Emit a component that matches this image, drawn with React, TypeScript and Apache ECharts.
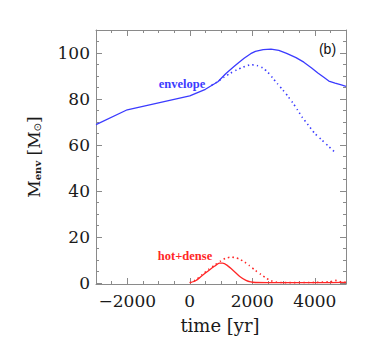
import React, { useEffect, useRef } from "react";
import * as echarts from "echarts";

// Envelope mass (solid)
const envTime = [-3000, -2000, 0, 500, 900, 1150, 1425, 1600, 1750, 1950, 2100, 2350, 2600, 2850, 3100, 3400, 3650, 3900, 4100, 4300, 4450, 4650, 4850, 5000];
const envMass = [68.8, 75.3, 81.3, 84.2, 87.5, 91.0, 94.2, 96.2, 97.8, 99.7, 100.7, 101.5, 101.7, 101.1, 99.8, 98.0, 96.0, 93.5, 91.3, 89.3, 87.8, 86.9, 86.1, 85.5];

// Envelope mass (dotted)
const envDotTime = [700, 900, 1100, 1300, 1500, 1700, 1950, 2150, 2334, 2500, 2655, 2800, 2976, 3150, 3297, 3450, 3600, 3800, 4000, 4215, 4450, 4650];
const envDotMass = [86.0, 87.6, 89.5, 91.2, 92.6, 93.8, 94.9, 94.6, 93.5, 91.6, 89.1, 86.7, 84.0, 81.0, 78.3, 75.2, 72.0, 68.5, 65.0, 62.3, 59.3, 56.8];

// Hot + dense (solid)
const hotTime = [0, 200, 400, 600, 800, 950, 1050, 1200, 1400, 1600, 1800, 1950, 2100, 2500, 3000, 4000, 5000];
const hotMass = [0.0, 1.0, 3.2, 5.3, 7.3, 8.6, 8.6, 7.6, 5.3, 2.8, 1.1, 0.4, 0.15, 0.1, 0.1, 0.1, 0.2];

// Hot + dense (dotted)
const hotDotTime = [0, 200, 400, 600, 800, 1000, 1150, 1316, 1450, 1600, 1750, 1900, 2100, 2280, 2450, 2600, 2750, 3000, 4000, 4500, 4650, 4750, 4850, 5000];
const hotDotMass = [0.0, 1.3, 3.6, 5.8, 7.7, 9.6, 10.7, 11.2, 11.0, 10.3, 9.1, 7.6, 5.4, 3.6, 2.0, 0.9, 0.3, 0.1, 0.2, 0.5, 1.1, 0.8, 0.3, 0.2];

const xMajor = [-2000, 0, 2000, 4000];
const xMinor = [-3000, -2500, -1500, -1000, -500, 500, 1000, 1500, 2500, 3000, 3500, 4500, 5000];
const yMajor = [0, 20, 40, 60, 80, 100];
const yMinor = [5, 10, 15, 25, 30, 35, 45, 50, 55, 65, 70, 75, 85, 90, 95, 105, 110];

const pairs = (xs: number[], ys: number[]) => xs.map((x, i) => [x, ys[i]]);
const fmt = (v: number) => (v < 0 ? "\u2212" + String(-v) : String(v));

const AXIS_COLOR = "#8a8a8a";
const BLUE = "#3b3bff";
const RED = "#ff2626";
const NUM_FONT = "DejaVu Serif";

export default function App() {
  const ref = useRef<HTMLDivElement>(null);
  useEffect(() => {
    document.body.style.margin = "0";
    if (!ref.current) return;
    const chart = echarts.init(ref.current, undefined, { renderer: "svg" });
    const xBase = { type: "value" as const, min: -3000, max: 5000, splitLine: { show: false } };
    const yBase = { type: "value" as const, min: -0.5, max: 110, splitLine: { show: false } };
    const majorTick = (vals: number[]) => ({ show: true, inside: true, length: 6, customValues: vals, lineStyle: { color: AXIS_COLOR, width: 1 } });
    const minorTick = (vals: number[]) => ({ show: true, inside: true, length: 3, customValues: vals, lineStyle: { color: AXIS_COLOR, width: 1 } });
    const line = { show: true, onZero: false, lineStyle: { color: AXIS_COLOR, width: 1 } };
    const noLine = { show: false, onZero: false };
    chart.setOption({
      animation: false,
      grid: { left: 96, right: 28, top: 30, bottom: 61 },
      xAxis: [
        {
          ...xBase, position: "bottom", axisLine: line, axisTick: majorTick(xMajor),
          axisLabel: { show: true, customValues: xMajor, formatter: fmt, margin: 8, fontFamily: NUM_FONT, fontSize: 17, color: "#1a1a1a" },
        },
        { ...xBase, position: "bottom", axisLine: noLine, axisTick: minorTick(xMinor), axisLabel: { show: false } },
        { ...xBase, position: "top", axisLine: line, axisTick: majorTick(xMajor), axisLabel: { show: false } },
        { ...xBase, position: "top", axisLine: noLine, axisTick: minorTick(xMinor), axisLabel: { show: false } },
      ],
      yAxis: [
        {
          ...yBase, position: "left", axisLine: line, axisTick: majorTick(yMajor),
          axisLabel: { show: true, customValues: yMajor, formatter: fmt, margin: 6, fontFamily: NUM_FONT, fontSize: 17, color: "#1a1a1a" },
        },
        { ...yBase, position: "left", axisLine: noLine, axisTick: minorTick(yMinor), axisLabel: { show: false } },
        { ...yBase, position: "right", axisLine: line, axisTick: majorTick(yMajor), axisLabel: { show: false } },
        { ...yBase, position: "right", axisLine: noLine, axisTick: minorTick(yMinor), axisLabel: { show: false } },
      ],
      series: [
        {
          type: "line", data: pairs(envTime, envMass), showSymbol: false, smooth: false,
          lineStyle: { color: BLUE, width: 1.3 }, z: 3,
        },
        {
          type: "line", data: pairs(envDotTime, envDotMass), showSymbol: false, smooth: 0.2,
          lineStyle: { color: BLUE, width: 1.6, type: [1.4, 3.2] }, z: 2,
        },
        {
          type: "line", data: pairs(hotTime, hotMass), showSymbol: false, smooth: 0.2,
          lineStyle: { color: RED, width: 1.3 }, z: 3,
        },
        {
          type: "line", data: pairs(hotDotTime, hotDotMass), showSymbol: false, smooth: 0.2,
          lineStyle: { color: RED, width: 1.6, type: [1.4, 3.2] }, z: 2,
        },
      ],
      graphic: [
        {
          type: "text", x: 182, y: 84,
          style: { text: "envelope", fill: BLUE, font: "bold 12.5px 'Liberation Serif'", align: "center", verticalAlign: "middle" },
        },
        {
          type: "text", x: 185, y: 256,
          style: { text: "hot+dense", fill: RED, font: "bold 12.5px 'Liberation Serif'", align: "center", verticalAlign: "middle" },
        },
        {
          type: "text", x: 327.5, y: 48.5,
          style: { text: "(b)", fill: "#111", font: "14px 'Liberation Sans'", align: "center", verticalAlign: "middle" },
        },
        {
          type: "text", x: 220, y: 325,
          style: { text: "time [yr]", fill: "#1a1a1a", font: "18px 'DejaVu Serif'", align: "center", verticalAlign: "middle" },
        },
        {
          type: "text", x: 34, y: 157, rotation: Math.PI / 2,
          style: {
            text: "{m|M}{s|env}{m| [M}{o|\u2299}{m|]}",
            align: "center", verticalAlign: "middle", fill: "#1a1a1a",
            rich: {
              m: { fontFamily: "DejaVu Serif", fontSize: 17, fill: "#1a1a1a", verticalAlign: "bottom" },
              s: { fontFamily: "DejaVu Serif", fontSize: 10, fontWeight: "bold", fill: "#1a1a1a", padding: [6, 0, 0, 0], verticalAlign: "bottom" },
              o: { fontFamily: "DejaVu Sans", fontSize: 10, fill: "#1a1a1a", padding: [5, 0, 0, 0], verticalAlign: "bottom" },
            },
          },
        },
      ],
    });
    return () => chart.dispose();
  }, []);
  return <div ref={ref} style={{ width: 374, height: 345 }} />;
}
